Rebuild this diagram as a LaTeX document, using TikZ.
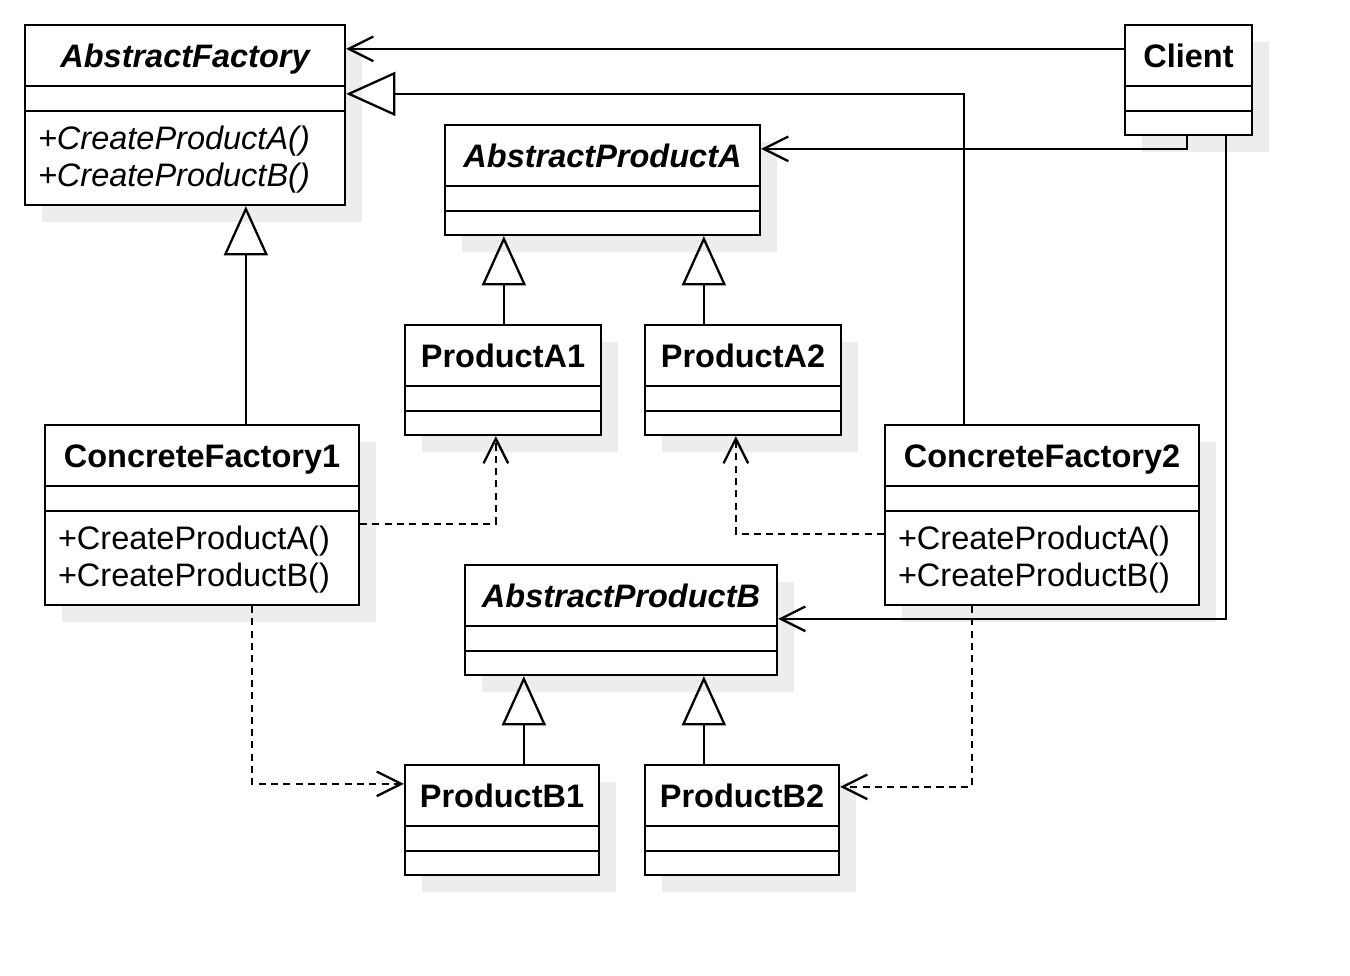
\documentclass[tikz,border=0pt]{standalone}
\usepackage{fontspec}
\setmainfont{Liberation Sans}
\usetikzlibrary{arrows.meta,calc,fit}

\tikzset{
  classbox/.style={draw, fill=white, inner sep=0pt},
  boxshadow/.style={fill=black!7},
  classname/.style={anchor=base, font=\fontsize{18.5}{22}\selectfont\bfseries},
  abstractname/.style={anchor=base, font=\fontsize{18.5}{22}\selectfont\bfseries\itshape},
  opslist/.style={align=left, anchor=west, inner sep=0pt, font=\fontsize{18.5}{21}\selectfont},
  abstractops/.style={opslist, font=\fontsize{18.5}{21}\selectfont\itshape},
  assoc/.style={-{Straight Barb[length=14pt,width=14pt]}},
  inherit/.style={-{Triangle[open,length=28pt,width=25pt]}},
  depend/.style={assoc, dash pattern=on 4pt off 3pt}
}

% name, left, top, right, bottom, title style, title
\newcommand{\umlclass}[7]{%
  \fill[boxshadow] (#2+17,#3+17) rectangle (#4+17,#5+17);
  \node[classbox, fit={(#2,#3) (#4,#5)}] (#1) {};
  \draw ($(#1.north west)+(0,62)$) -- ($(#1.north east)+(0,62)$);
  \draw ($(#1.north west)+(0,87)$) -- ($(#1.north east)+(0,87)$);
  \node[#6] (#1-name) at ($(#1.north)+(0,44)$) {#7};
}

\begin{document}
\begin{tikzpicture}[x=0.02cm, y=-0.02cm, line width=1.3pt]
  \useasboundingbox (0,0) rectangle (1350,975);

  % classes
  \umlclass{af}{25}{25}{345}{205}{abstractname}{AbstractFactory}
  \umlclass{cl}{1125}{25}{1252}{135}{classname}{Client}
  \umlclass{apa}{445}{125}{760}{235}{abstractname}{AbstractProductA}
  \umlclass{pa1}{405}{325}{601}{435}{classname}{ProductA1}
  \umlclass{pa2}{645}{325}{841}{435}{classname}{ProductA2}
  \umlclass{cf1}{45}{425}{359}{605}{classname}{ConcreteFactory1}
  \umlclass{cf2}{885}{425}{1199}{605}{classname}{ConcreteFactory2}
  \umlclass{apb}{465}{565}{777}{675}{abstractname}{AbstractProductB}
  \umlclass{pb1}{405}{765}{599}{875}{classname}{ProductB1}
  \umlclass{pb2}{645}{765}{839}{875}{classname}{ProductB2}

  % operations
  \node[abstractops] (af-ops) at ($(af.north west)+(13,136)$) {+CreateProductA()\\+CreateProductB()};
  \node[opslist] (cf1-ops) at ($(cf1.north west)+(13,136)$) {+CreateProductA()\\+CreateProductB()};
  \node[opslist] (cf2-ops) at ($(cf2.north west)+(13,136)$) {+CreateProductA()\\+CreateProductB()};

  % associations
  \draw[assoc] ($(cl.north west)+(0,25)$) -- ($(af.north east)+(0,25)$);
  \draw[assoc] ($(cl.south west)+(63,0)$) |- ($(apa.north east)+(0,25)$);
  \draw[assoc] ($(cl.south west)+(102,0)$) |- ($(apb.north east)+(0,55)$);

  % generalizations
  \draw[inherit] ($(cf1.north west)+(202,0)$) -- ($(af.south west)+(222,0)$);
  \draw[inherit] ($(cf2.north west)+(80,0)$) |- ($(af.north east)+(0,70)$);
  \draw[inherit] ($(pa1.north west)+(100,0)$) -- ($(apa.south west)+(60,0)$);
  \draw[inherit] ($(pa2.north west)+(60,0)$) -- ($(apa.south west)+(260,0)$);
  \draw[inherit] ($(pb1.north west)+(120,0)$) -- ($(apb.south west)+(60,0)$);
  \draw[inherit] ($(pb2.north west)+(60,0)$) -- ($(apb.south west)+(240,0)$);

  % dependencies
  \draw[depend] ($(cf1.north east)+(0,100)$) -| ($(pa1.south west)+(92,0)$);
  \draw[depend] ($(cf2.north west)+(0,110)$) -| ($(pa2.south west)+(92,0)$);
  \draw[depend] ($(cf1.south west)+(208,0)$) |- ($(pb1.north west)+(0,20)$);
  \draw[depend] ($(cf2.south west)+(88,0)$) |- ($(pb2.north east)+(0,23)$);
\end{tikzpicture}
\end{document}
